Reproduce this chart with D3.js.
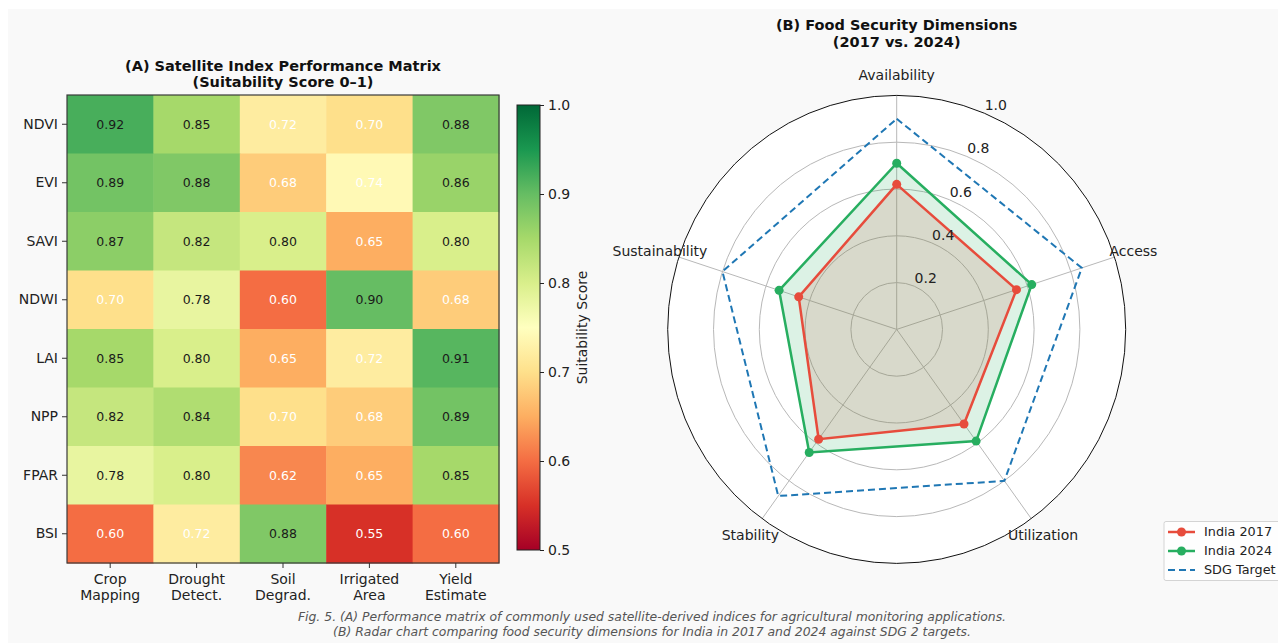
<!DOCTYPE html>
<html>
<head>
<meta charset="utf-8">
<script src="https://cdn.jsdelivr.net/npm/d3@7"></script>
<style>
  html, body { margin: 0; padding: 0; background: #ffffff; }
  svg { display: block; font-family: "DejaVu Sans", sans-serif; }
</style>
</head>
<body>
<svg id="fig" width="1278" height="643"></svg>
<script>
// ---------- Panel A: index performance matrix ----------
const indices = ["NDVI", "EVI", "SAVI", "NDWI", "LAI", "NPP", "FPAR", "BSI"];
const applications = [["Crop", "Mapping"], ["Drought", "Detect."], ["Soil", "Degrad."], ["Irrigated", "Area"], ["Yield", "Estimate"]];
const scoreNDVI = [0.92, 0.85, 0.72, 0.70, 0.88];
const scoreEVI  = [0.89, 0.88, 0.68, 0.74, 0.86];
const scoreSAVI = [0.87, 0.82, 0.80, 0.65, 0.80];
const scoreNDWI = [0.70, 0.78, 0.60, 0.90, 0.68];
const scoreLAI  = [0.85, 0.80, 0.65, 0.72, 0.91];
const scoreNPP  = [0.82, 0.84, 0.70, 0.68, 0.89];
const scoreFPAR = [0.78, 0.80, 0.62, 0.65, 0.85];
const scoreBSI  = [0.60, 0.72, 0.88, 0.55, 0.60];
const colorbarTicks = [0.5, 0.6, 0.7, 0.8, 0.9, 1.0];

// ---------- Panel B: food security radar ----------
const dimensions = ["Availability", "Access", "Utilization", "Stability", "Sustainability"];
const india2017 = [0.62, 0.55, 0.50, 0.58, 0.45];
const india2024 = [0.71, 0.62, 0.59, 0.65, 0.54];
const sdgTarget = [0.90, 0.85, 0.80, 0.88, 0.80];
const radialTicks = [0.2, 0.4, 0.6, 0.8, 1.0];

const scoreRows = [scoreNDVI, scoreEVI, scoreSAVI, scoreNDWI, scoreLAI, scoreNPP, scoreFPAR, scoreBSI];

const svg = d3.select("#fig");

// figure background
svg.append("rect").attr("x", 8).attr("y", 9).attr("width", 1270).attr("height", 634).attr("fill", "#f9f9f9");

// RdYlGn colour ramp (piecewise linear between the ColorBrewer anchors)
const rdylgn = ["#a50026", "#d73027", "#f46d43", "#fdae61", "#fee08b", "#ffffbf",
                "#d9ef8b", "#a6d96a", "#66bd63", "#1a9850", "#006837"];
const vmin = 0.5, vmax = 1.0;
const color = d3.scaleLinear()
  .domain(rdylgn.map((_, i) => vmin + (vmax - vmin) * i / (rdylgn.length - 1)))
  .range(rdylgn)
  .interpolate(d3.interpolateRgb)
  .clamp(true);

const LABEL = 14;   // tick / category label size
const TITLE = 14.5; // panel title size

// ---- heatmap ----
const hm = { left: 67, right: 499, top: 95, bottom: 563 };
const xBand = d3.scaleBand().domain(d3.range(applications.length)).range([hm.left, hm.right]);
const yBand = d3.scaleBand().domain(indices).range([hm.top, hm.bottom]);

const gA = svg.append("g");
gA.append("text").attr("x", (hm.left + hm.right) / 2).attr("y", 71)
  .attr("text-anchor", "middle").attr("font-weight", "bold").attr("font-size", TITLE).attr("fill", "#111")
  .text("(A) Satellite Index Performance Matrix");
gA.append("text").attr("x", (hm.left + hm.right) / 2).attr("y", 87)
  .attr("text-anchor", "middle").attr("font-weight", "bold").attr("font-size", TITLE).attr("fill", "#111")
  .text("(Suitability Score 0\u20131)");

const cells = [];
scoreRows.forEach((row, r) => row.forEach((v, c) => cells.push({ r: indices[r], c, v })));

gA.selectAll("rect.cell").data(cells).enter().append("rect")
  .attr("class", "cell")
  .attr("x", d => xBand(d.c)).attr("y", d => yBand(d.r))
  .attr("width", xBand.bandwidth() + 0.5).attr("height", yBand.bandwidth() + 0.5)
  .attr("fill", d => color(d.v));

gA.selectAll("text.val").data(cells).enter().append("text")
  .attr("class", "val")
  .attr("x", d => xBand(d.c) + xBand.bandwidth() / 2)
  .attr("y", d => yBand(d.r) + yBand.bandwidth() / 2)
  .attr("dy", "0.35em").attr("text-anchor", "middle").attr("font-size", 12.5)
  .attr("fill", d => d.v < 0.75 ? "#ffffff" : "#1a1a1a")
  .text(d => d.v.toFixed(2));

gA.append("rect").attr("x", hm.left).attr("y", hm.top)
  .attr("width", hm.right - hm.left).attr("height", hm.bottom - hm.top)
  .attr("fill", "none").attr("stroke", "#3a3a3a").attr("stroke-width", 1.2);

// y axis
const yAxis = d3.axisLeft(yBand).tickSize(5).tickPadding(4);
const gy = gA.append("g").attr("transform", `translate(${hm.left},0)`).call(yAxis);
gy.select(".domain").remove();
gy.selectAll("line").attr("stroke", "#333");
gy.selectAll("text").attr("font-size", LABEL).attr("fill", "#222").attr("font-family", "DejaVu Sans");

// x axis with two-line labels
const xAxis = d3.axisBottom(xBand).tickSize(5).tickFormat(() => "");
const gx = gA.append("g").attr("transform", `translate(0,${hm.bottom})`).call(xAxis);
gx.select(".domain").remove();
gx.selectAll("line").attr("stroke", "#333");
applications.forEach((lines, i) => {
  const t = gA.append("text").attr("x", xBand(i) + xBand.bandwidth() / 2).attr("y", 584)
    .attr("text-anchor", "middle").attr("font-size", LABEL).attr("fill", "#222");
  lines.forEach((s, k) => t.append("tspan").attr("x", xBand(i) + xBand.bandwidth() / 2).attr("dy", k === 0 ? 0 : 16).text(s));
});

// ---- colorbar ----
const cb = { x: 517, w: 23, top: 105, bottom: 550 };
const cbScale = d3.scaleLinear().domain([vmin, vmax]).range([cb.bottom, cb.top]);
const defs = svg.append("defs");
const grad = defs.append("linearGradient").attr("id", "cbGrad")
  .attr("x1", 0).attr("y1", 1).attr("x2", 0).attr("y2", 0);
rdylgn.forEach((c, i) => grad.append("stop").attr("offset", i / (rdylgn.length - 1)).attr("stop-color", c));
svg.append("rect").attr("x", cb.x).attr("y", cb.top).attr("width", cb.w).attr("height", cb.bottom - cb.top)
  .attr("fill", "url(#cbGrad)").attr("stroke", "#222").attr("stroke-width", 1);
const gcb = svg.append("g").attr("transform", `translate(${cb.x + cb.w},0)`)
  .call(d3.axisRight(cbScale).tickValues(colorbarTicks).tickSize(4).tickPadding(4).tickFormat(d3.format(".1f")));
gcb.select(".domain").remove();
gcb.selectAll("line").attr("stroke", "#222");
gcb.selectAll("text").attr("font-size", LABEL).attr("fill", "#222").attr("font-family", "DejaVu Sans");
svg.append("text").attr("transform", `translate(587,${(cb.top + cb.bottom) / 2}) rotate(-90)`)
  .attr("text-anchor", "middle").attr("font-size", LABEL).attr("fill", "#222").text("Suitability Score");

// ---- radar ----
const cx = 896.7, cy = 329.4;
const rX = d3.scaleLinear().domain([0, 1]).range([0, 229]);
const rY = d3.scaleLinear().domain([0, 1]).range([0, 234]);
const angle = d3.scalePoint().domain(dimensions).range([0, 2 * Math.PI * (dimensions.length - 1) / dimensions.length]);
const pt = (dim, v) => [cx + rX(v) * Math.sin(angle(dim)), cy - rY(v) * Math.cos(angle(dim))];

const gB = svg.append("g");
gB.append("text").attr("x", cx).attr("y", 30).attr("text-anchor", "middle")
  .attr("font-weight", "bold").attr("font-size", TITLE).attr("fill", "#111").text("(B) Food Security Dimensions");
gB.append("text").attr("x", cx).attr("y", 47).attr("text-anchor", "middle")
  .attr("font-weight", "bold").attr("font-size", TITLE).attr("fill", "#111").text("(2017 vs. 2024)");

gB.append("ellipse").attr("cx", cx).attr("cy", cy).attr("rx", rX(1)).attr("ry", rY(1)).attr("fill", "#ffffff");

gB.selectAll("ellipse.ring").data(radialTicks.slice(0, -1)).enter().append("ellipse")
  .attr("class", "ring").attr("cx", cx).attr("cy", cy)
  .attr("rx", d => rX(d)).attr("ry", d => rY(d))
  .attr("fill", "none").attr("stroke", "#b8b8b8").attr("stroke-width", 1);

gB.selectAll("line.spoke").data(dimensions).enter().append("line")
  .attr("class", "spoke")
  .attr("x1", cx).attr("y1", cy)
  .attr("x2", d => pt(d, 1)[0]).attr("y2", d => pt(d, 1)[1])
  .attr("stroke", "#b8b8b8").attr("stroke-width", 1);

const polyLine = d3.line().curve(d3.curveLinearClosed);
const series = [
  { name: "India 2017", values: india2017, color: "#e74c3c" },
  { name: "India 2024", values: india2024, color: "#27ae60" }
];
const ptsOf = vals => dimensions.map((d, i) => pt(d, vals[i]));

// fills first, then outlines and markers
series.forEach(s => {
  gB.append("path").attr("d", polyLine(ptsOf(s.values)))
    .attr("fill", s.color).attr("fill-opacity", 0.16).attr("stroke", "none");
});
series.forEach(s => {
  gB.append("path").attr("d", polyLine(ptsOf(s.values)))
    .attr("fill", "none").attr("stroke", s.color).attr("stroke-width", 2.5).attr("stroke-linejoin", "miter");
  gB.selectAll(null).data(ptsOf(s.values)).enter().append("circle")
    .attr("cx", d => d[0]).attr("cy", d => d[1]).attr("r", 4.5).attr("fill", s.color);
});
gB.append("path").attr("d", polyLine(ptsOf(sdgTarget)))
  .attr("fill", "none").attr("stroke", "#1f77b4").attr("stroke-width", 2).attr("stroke-dasharray", "7,4");

// outer boundary
gB.append("ellipse").attr("cx", cx).attr("cy", cy).attr("rx", rX(1)).attr("ry", rY(1))
  .attr("fill", "none").attr("stroke", "#111").attr("stroke-width", 1);

// radial tick labels at 22.5 degrees
const labAng = Math.PI / 8;
gB.selectAll("text.rtick").data(radialTicks).enter().append("text")
  .attr("class", "rtick")
  .attr("x", d => cx + rX(d) * Math.sin(labAng) + 11.5)
  .attr("y", d => cy - rY(d) * Math.cos(labAng) - 8)
  .attr("dy", "0.35em").attr("text-anchor", "middle").attr("font-size", LABEL).attr("fill", "#222")
  .text(d3.format(".1f"));

// category labels
gB.selectAll("text.dim").data(dimensions).enter().append("text")
  .attr("class", "dim")
  .attr("x", d => cx + rX(1.087) * Math.sin(angle(d)))
  .attr("y", d => cy - rY(1.087) * Math.cos(angle(d)))
  .attr("dy", "0.35em").attr("text-anchor", "middle").attr("font-size", LABEL).attr("fill", "#222")
  .text(d => d);

// legend
const lg = svg.append("g").attr("transform", "translate(1164,521.5)");
lg.append("rect").attr("width", 126).attr("height", 59).attr("rx", 2)
  .attr("fill", "#ffffff").attr("fill-opacity", 0.85).attr("stroke", "#d4d4d4");
const legendItems = [...series, { name: "SDG Target", color: "#1f77b4", dashed: true }];
legendItems.forEach((s, i) => {
  const y = 10.5 + i * 19;
  lg.append("line").attr("x1", 4).attr("x2", 31).attr("y1", y).attr("y2", y)
    .attr("stroke", s.color).attr("stroke-width", s.dashed ? 2 : 2.5)
    .attr("stroke-dasharray", s.dashed ? "7,4" : null);
  if (!s.dashed) lg.append("circle").attr("cx", 17.5).attr("cy", y).attr("r", 4.5).attr("fill", s.color);
  lg.append("text").attr("x", 40).attr("y", y).attr("dy", "0.35em").attr("font-size", 12.8)
    .attr("fill", "#222").text(s.name);
});

// caption
const cap = svg.append("text").attr("text-anchor", "middle").attr("font-size", 12.4)
  .attr("font-style", "italic").attr("fill", "#555");
cap.append("tspan").attr("x", 652).attr("y", 621)
  .text("Fig. 5. (A) Performance matrix of commonly used satellite-derived indices for agricultural monitoring applications.");
cap.append("tspan").attr("x", 652).attr("y", 636)
  .text("(B) Radar chart comparing food security dimensions for India in 2017 and 2024 against SDG 2 targets.");
</script>
</body>
</html>
